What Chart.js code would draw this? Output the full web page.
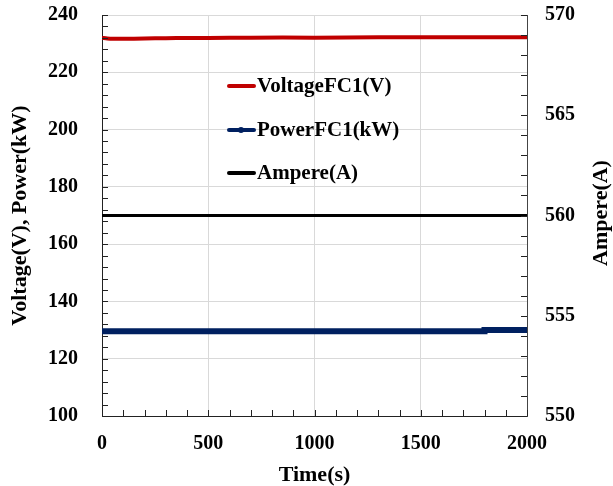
<!DOCTYPE html>
<html>
<head>
<meta charset="utf-8">
<script src="https://cdn.jsdelivr.net/npm/chart.js@4.4.0/dist/chart.umd.min.js"></script>
<style>
  html, body { margin: 0; padding: 0; background: #fff; }
</style>
</head>
<body>
<canvas id="graph" width="613" height="486"></canvas>
<script>
// values
const times   = [0, 25, 50, 100, 200, 300, 400, 500, 700, 1000, 1300, 1500, 1790, 1800, 2000];
const voltage = [232.0, 231.8, 231.7, 231.7, 231.8, 231.9, 232.0, 232.0, 232.1, 232.1, 232.2, 232.2, 232.2, 232.2, 232.2];
const power   = [129.6, 129.6, 129.6, 129.6, 129.6, 129.6, 129.6, 129.6, 129.6, 129.6, 129.6, 129.6, 129.6, 130.0, 130.0];
const ampere  = [560, 560, 560, 560, 560, 560, 560, 560, 560, 560, 560, 560, 560, 560, 560];

const xStep = 500;
const leftStep = 20;
const rightStep = 5;

const serif = '"Liberation Serif", "Times New Roman", serif';

function pts(ys) {
    return times.map((t, i) => ({x: t, y: ys[i]}));
}

// inward ticks, right title, legend
const decor = {
    id: 'decor',
    afterDraw(chart) {
        const ctx = chart.ctx;
        const a = chart.chartArea;
        const x = chart.scales.x, y = chart.scales.y, y1 = chart.scales.y1;
        ctx.save();
        ctx.strokeStyle = '#222';
        ctx.lineWidth = 1;
        ctx.beginPath();
        for (let v = 0; v <= 2000; v += 100) {
            const px = Math.round(x.getPixelForValue(v)) + 0.5;
            ctx.moveTo(px, a.bottom);
            ctx.lineTo(px, a.bottom - 6);
        }
        for (let v = 100; v <= 240; v += 4) {
            const py = Math.round(y.getPixelForValue(v)) + 0.5;
            ctx.moveTo(a.left, py);
            ctx.lineTo(a.left + 6, py);
        }
        for (let v = 550; v <= 570; v += 1) {
            const py = Math.round(y1.getPixelForValue(v)) + 0.5;
            ctx.moveTo(a.right, py);
            ctx.lineTo(a.right - 6, py);
        }
        ctx.stroke();

        // right axis title, reading bottom to top
        ctx.fillStyle = '#000';
        ctx.font = 'bold 22px ' + serif;
        ctx.textAlign = 'center';
        ctx.textBaseline = 'middle';
        ctx.translate(601, 213);
        ctx.rotate(-Math.PI / 2);
        ctx.fillText('Ampere(A)', 0, 0);
        ctx.restore();

        // legend
        ctx.save();
        ctx.font = 'bold 21px ' + serif;
        ctx.textAlign = 'left';
        ctx.textBaseline = 'middle';
        const rows = [86, 130, 173];
        chart.data.datasets.forEach((ds, i) => {
            const ly = rows[i];
            ctx.strokeStyle = ds.borderColor;
            ctx.lineWidth = 4;
            ctx.lineCap = 'round';
            ctx.beginPath();
            ctx.moveTo(229, ly);
            ctx.lineTo(254, ly);
            ctx.stroke();
            if (i === 1) {
                ctx.fillStyle = ds.borderColor;
                ctx.beginPath();
                ctx.arc(241, ly, 3, 0, Math.PI * 2);
                ctx.fill();
            }
            ctx.fillStyle = '#000';
            ctx.fillText(ds.label, 257, ly + 1);
        });
        ctx.restore();
    }
};

const tickFont = { family: serif, size: 20, weight: 'bold' };
const titleFont = { family: serif, size: 22, weight: 'bold' };
const plain = v => String(v);
// keep the label padding from pushing the plot area down
const noPad = s => { s.paddingTop = 0; s.paddingBottom = 0; };

const graph = document.getElementById('graph').getContext('2d');

new Chart(graph, {
    type: 'line',
    data: {
        datasets: [{
            label: 'VoltageFC1(V)',
            data: pts(voltage),
            borderColor: '#c00000',
            borderWidth: 4,
            pointRadius: 0,
            tension: 0.3,
            yAxisID: 'y',
        }, {
            label: 'PowerFC1(kW)',
            data: pts(power),
            borderColor: '#002060',
            borderWidth: 6,
            borderCapStyle: 'round',
            pointRadius: 0,
            stepped: 'before',
            yAxisID: 'y',
        }, {
            label: 'Ampere(A)',
            data: pts(ampere),
            borderColor: '#000000',
            borderWidth: 3,
            pointRadius: 0,
            yAxisID: 'y1',
        }],
    },
    options: {
        responsive: false,
        animation: false,
        layout: { padding: { top: 15, left: 0, right: 0, bottom: 0 } },
        plugins: {
            legend: { display: false },
            tooltip: { enabled: false },
        },
        scales: {
            x: {
                type: 'linear',
                min: 0, max: 2000,
                afterFit: s => { s.height = 70; s.paddingLeft = 0; s.paddingRight = 0; },
                ticks: { stepSize: xStep, color: '#000', font: tickFont, padding: 16, callback: plain, maxRotation: 0 },
                grid: { color: '#d9d9d9', drawTicks: false, lineWidth: 1 },
                border: { color: '#222', width: 1 },
                title: { display: true, text: 'Time(s)', color: '#000', font: titleFont, padding: { top: 0, bottom: -3 } },
            },
            y: {
                position: 'left',
                min: 100, max: 240,
                afterFit: s => { s.width = 102; noPad(s); },
                ticks: { stepSize: leftStep, color: '#000', font: tickFont, padding: 24, callback: plain },
                grid: { color: '#d9d9d9', drawTicks: false, lineWidth: 1 },
                border: { color: '#222', width: 1 },
                title: { display: true, text: 'Voltage(V), Power(kW)', color: '#000', font: titleFont, padding: { top: 7, bottom: 0 } },
            },
            y1: {
                position: 'right',
                min: 550, max: 570,
                afterFit: s => { s.width = 86; noPad(s); },
                ticks: { stepSize: rightStep, color: '#000', font: tickFont, padding: 18, callback: plain },
                grid: { drawOnChartArea: false, drawTicks: false },
                border: { color: '#444', width: 1 },
            },
        },
    },
    plugins: [decor],
});
</script>
</body>
</html>
